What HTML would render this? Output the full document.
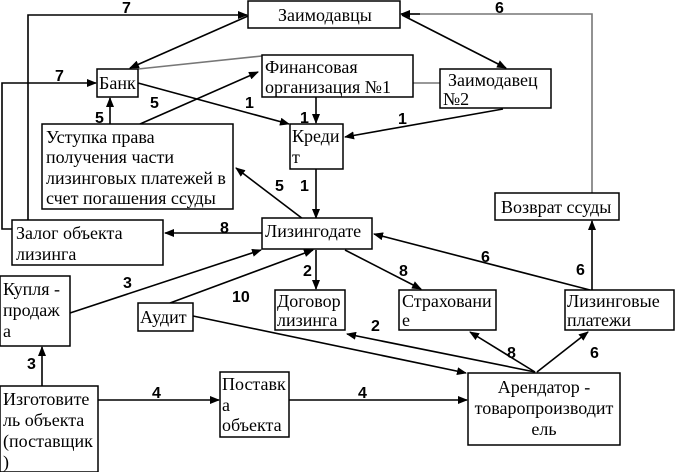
<!DOCTYPE html>
<html><head><meta charset="utf-8"><style>
html,body{margin:0;padding:0;background:#fff;}
svg{display:block}
.t{font-family:"Liberation Serif",serif;font-size:18px;fill:#000}
.n{font-family:"Liberation Sans",sans-serif;font-size:16px;font-weight:bold;fill:#000}
rect{fill:#fff;stroke:#000;stroke-width:1.5}
line,polyline{stroke:#000;stroke-width:1.6;fill:none}
.g{stroke:#777}
</style></head><body>
<svg width="675" height="472" viewBox="0 0 675 472" xmlns="http://www.w3.org/2000/svg">
<defs><marker id="a" markerWidth="10" markerHeight="8" refX="9" refY="4" orient="auto" markerUnits="userSpaceOnUse"><path d="M0,0 L10,4 L0,8 z" fill="#000"/></marker></defs>
<polyline points="28,220 28,15 247,15" marker-end="url(#a)"/>
<polyline points="12,229 2,229 2,83 96,83" marker-end="url(#a)"/>
<line x1="248" y1="16" x2="130" y2="68" marker-end="url(#a)"/>
<line x1="402" y1="15" x2="506" y2="68" marker-end="url(#a)"/>
<polyline class="g" points="592,193 592,14 402,14"/>
<line x1="420" y1="14" x2="401" y2="14" marker-end="url(#a)"/>
<line class="g" x1="138" y1="69" x2="262" y2="56"/>
<line class="g" x1="413" y1="83" x2="440" y2="83"/>
<line x1="138" y1="83" x2="289" y2="124" marker-end="url(#a)"/>
<line x1="316" y1="97" x2="316" y2="123" marker-end="url(#a)"/>
<line x1="503" y1="109" x2="345" y2="137" marker-end="url(#a)"/>
<line x1="110" y1="124" x2="110" y2="98" marker-end="url(#a)"/>
<line x1="140" y1="124" x2="258" y2="72" marker-end="url(#a)"/>
<line x1="316" y1="169" x2="316" y2="218" marker-end="url(#a)"/>
<line x1="303" y1="219" x2="236" y2="168" marker-end="url(#a)"/>
<line x1="262" y1="233" x2="165" y2="233" marker-end="url(#a)"/>
<line x1="70" y1="313" x2="261" y2="250" marker-end="url(#a)"/>
<line x1="170" y1="303" x2="313" y2="250" marker-end="url(#a)"/>
<line x1="316" y1="250" x2="316" y2="289" marker-end="url(#a)"/>
<line x1="345" y1="250" x2="421" y2="289" marker-end="url(#a)"/>
<line x1="590" y1="290" x2="374" y2="234" marker-end="url(#a)"/>
<line x1="592" y1="290" x2="592" y2="221" marker-end="url(#a)"/>
<line x1="42" y1="386" x2="42" y2="347" marker-end="url(#a)"/>
<line x1="98" y1="400" x2="219" y2="400" marker-end="url(#a)"/>
<line x1="289" y1="400" x2="467" y2="400" marker-end="url(#a)"/>
<line x1="193" y1="316" x2="466" y2="373" marker-end="url(#a)"/>
<line x1="535" y1="372" x2="347" y2="334" marker-end="url(#a)"/>
<line x1="535" y1="372" x2="470" y2="332" marker-end="url(#a)"/>
<line x1="537" y1="372" x2="588" y2="332" marker-end="url(#a)"/>
<rect x="248" y="1" width="152" height="27"/>
<text class="t" x="278" y="21">Заимодавцы</text>
<rect x="97" y="69" width="41" height="28"/>
<text class="t" x="99" y="89">Банк</text>
<rect x="262" y="55" width="151" height="42"/>
<text class="t" x="265" y="73">Финансовая</text>
<text class="t" x="265" y="93">организация №1</text>
<rect x="440" y="69" width="111" height="39"/>
<text class="t" x="448" y="86">Заимодавец</text>
<text class="t" x="443" y="105">№2</text>
<rect x="290" y="124" width="53" height="45"/>
<text class="t" x="292" y="142">Креди</text>
<text class="t" x="292" y="163">т</text>
<rect x="42" y="124" width="191" height="85"/>
<text class="t" x="46" y="143">Уступка права</text>
<text class="t" x="46" y="163">получения части</text>
<text class="t" x="46" y="184">лизинговых платежей в</text>
<text class="t" x="46" y="204">счет погашения ссуды</text>
<rect x="495" y="193" width="124" height="27"/>
<text class="t" x="501" y="213">Возврат ссуды</text>
<rect x="12" y="220" width="151" height="45"/>
<text class="t" x="16" y="239">Залог объекта</text>
<text class="t" x="16" y="260">лизинга</text>
<rect x="262" y="218" width="110" height="31"/>
<text class="t" x="265" y="237">Лизингодате</text>
<rect x="0" y="276" width="70" height="70"/>
<text class="t" x="3" y="295">Купля -</text>
<text class="t" x="3" y="316">продаж</text>
<text class="t" x="3" y="337">а</text>
<rect x="138" y="303" width="55" height="28"/>
<text class="t" x="140" y="323">Аудит</text>
<rect x="275" y="290" width="70" height="40"/>
<text class="t" x="277" y="307">Договор</text>
<text class="t" x="277" y="326">лизинга</text>
<rect x="399" y="290" width="97" height="40"/>
<text class="t" x="402" y="307">Страховани</text>
<text class="t" x="402" y="326">е</text>
<rect x="565" y="290" width="109" height="40"/>
<text class="t" x="567" y="307">Лизинговые</text>
<text class="t" x="567" y="326">платежи</text>
<rect x="0" y="386" width="98" height="86"/>
<text class="t" x="3" y="405">Изготовите</text>
<text class="t" x="3" y="426">ль объекта</text>
<text class="t" x="3" y="447">(поставщик</text>
<text class="t" x="3" y="468">)</text>
<rect x="220" y="372" width="69" height="65"/>
<text class="t" x="222" y="390">Поставк</text>
<text class="t" x="222" y="411">а</text>
<text class="t" x="222" y="431">объекта</text>
<rect x="468" y="373" width="152" height="72"/>
<text class="t" x="544" y="393" text-anchor="middle">Арендатор -</text>
<text class="t" x="544" y="414" text-anchor="middle">товаропроизводит</text>
<text class="t" x="544" y="435" text-anchor="middle">ель</text>
<text class="n" x="122" y="13">7</text>
<text class="n" x="55" y="81">7</text>
<text class="n" x="495" y="13">6</text>
<text class="n" x="95" y="123">5</text>
<text class="n" x="150" y="108">5</text>
<text class="n" x="245" y="108">1</text>
<text class="n" x="300" y="123">1</text>
<text class="n" x="398" y="124">1</text>
<text class="n" x="300" y="191">1</text>
<text class="n" x="275" y="191">5</text>
<text class="n" x="220" y="233">8</text>
<text class="n" x="123" y="288">3</text>
<text class="n" x="232" y="302">10</text>
<text class="n" x="303" y="276">2</text>
<text class="n" x="399" y="276">8</text>
<text class="n" x="481" y="262">6</text>
<text class="n" x="576" y="275">6</text>
<text class="n" x="27" y="369">3</text>
<text class="n" x="152" y="398">4</text>
<text class="n" x="358" y="398">4</text>
<text class="n" x="371" y="331">2</text>
<text class="n" x="507" y="358">8</text>
<text class="n" x="590" y="358">6</text>
</svg>
</body></html>
